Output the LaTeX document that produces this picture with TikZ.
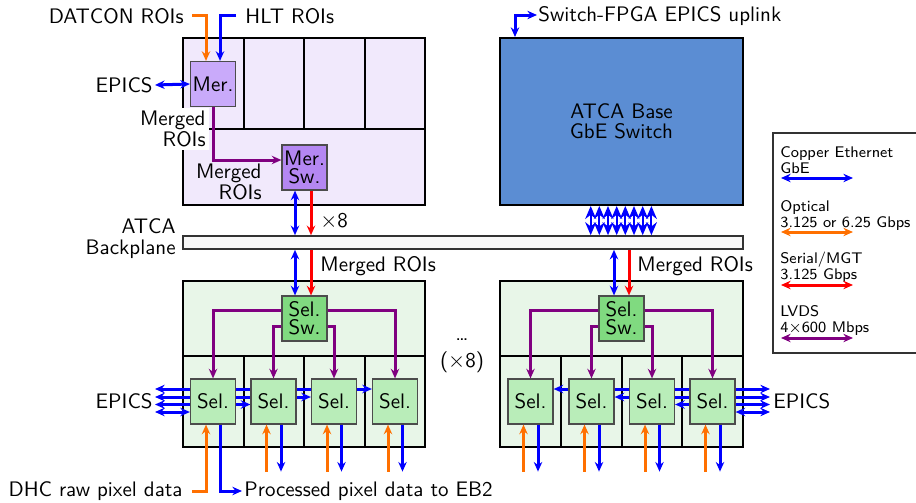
\documentclass[tikz,border=0pt]{standalone}
\usetikzlibrary{arrows.meta,calc}
\pgfdeclarelayer{bg}
\pgfdeclarelayer{mid}
\pgfsetlayers{bg,mid,main}
\definecolor{lavcrate}{HTML}{F1E9FC}
\definecolor{merfill}{HTML}{C9AAFA}
\definecolor{merswfill}{HTML}{B487F2}
\definecolor{grncrate}{HTML}{E8F6E8}
\definecolor{selswfill}{HTML}{80DA80}
\definecolor{selfill}{HTML}{B9EDB9}
\definecolor{swfill}{HTML}{5B8DD3}
\definecolor{cblue}{HTML}{0000FF}
\definecolor{corange}{HTML}{FF7000}
\definecolor{cred}{HTML}{FF0000}
\definecolor{cpurple}{HTML}{800080}
\definecolor{bpfill}{HTML}{F8F8F8}
\begin{document}
\begin{tikzpicture}[x=0.5pt,y=-0.5pt,
  >={Stealth[length=4.8pt,width=4.2pt]},
  every node/.style={font=\sffamily\fontsize{10.5}{10.5}\selectfont, inner sep=0pt},
  crateL/.style={draw=black, line width=1pt, fill=lavcrate},
  crateG/.style={draw=black, line width=1pt, fill=grncrate},
  divline/.style={draw=black, line width=1pt},
  smallbox/.style={draw=black!70, line width=0.6pt, minimum width=22.5pt, minimum height=22.5pt, align=center, font=\sffamily\fontsize{10.5}{9}\selectfont},
  merbox/.style={smallbox, fill=merfill},
  merswbox/.style={smallbox, fill=merswfill},
  selbox/.style={smallbox, fill=selfill},
  selswbox/.style={smallbox, fill=selswfill},
  ar/.style={->, line width=1.5pt},
  bi/.style={<->, line width=1.5pt},
  thinbi/.style={{Stealth[length=6.5pt,width=5.5pt]}-{Stealth[length=6.5pt,width=5.5pt]}, line width=1pt},
  lbl/.style={align=right},
  leg/.style={align=left, anchor=north west, font=\sffamily\fontsize{7.7}{8}\selectfont},
]
\useasboundingbox (0,0) rectangle (916,503);

% ---------- crates (background) ----------
\begin{pgfonlayer}{bg}
  \draw[crateL] (183,38) rectangle (425,205);
  \draw[divline] (183,129) -- (425,129);
  \foreach \x in {244,304,365} \draw[divline] (\x,38) -- (\x,129);
  \draw[crateG] (183,281) rectangle (425,447);
  \draw[divline] (183,356) -- (425,356);
  \foreach \x in {244,304,365} \draw[divline] (\x,356) -- (\x,447);
  \draw[crateG] (500,281) rectangle (743,447);
  \draw[divline] (500,356) -- (743,356);
  \foreach \x in {561,622,682} \draw[divline] (\x,356) -- (\x,447);
  \draw[draw=black!80, line width=0.8pt] (773,133) rectangle (930,353);
\end{pgfonlayer}

% ---------- main nodes ----------
\node[merbox] (mer) at (213,84) {Mer.};
\node[merswbox] (mersw) at (304.5,167.5) {Mer.\\Sw.};
\node[draw=black, line width=1pt, fill=swfill, minimum width=121.5pt, minimum height=83.5pt, align=center, font=\sffamily\fontsize{10.5}{10}\selectfont] (sw) at (621.5,121.5) {ATCA Base\\GbE Switch};
\node[draw=black!80, line width=0.8pt, fill=bpfill, minimum width=280pt, minimum height=6.5pt] (bp) at (463,242.5) {};

\node[selswbox] (LS) at (304.5,318.5) {Sel.\\Sw.};
\node[selswbox] (RS) at (621.5,318.5) {Sel.\\Sw.};
\node[selbox] (L1) at (213,401.5) {Sel.};
\node[selbox] (L2) at (273.5,401.5) {Sel.};
\node[selbox] (L3) at (334,401.5) {Sel.};
\node[selbox] (L4) at (395,401.5) {Sel.};
\node[selbox] (R1) at (530.5,401.5) {Sel.};
\node[selbox] (R2) at (591.5,401.5) {Sel.};
\node[selbox] (R3) at (652,401.5) {Sel.};
\node[selbox] (R4) at (712.5,401.5) {Sel.};

% ---------- labels ----------
\node[anchor=east] (datcon) at (184,16.5) {DATCON ROIs};
\node[anchor=west] (hlt) at (245,16.5) {HLT ROIs};
\node[anchor=east] (epicsT) at (153,85) {EPICS};
\node[lbl, anchor=north east, fill=white, inner sep=1.5pt] (mergedA) at (209,108) {Merged\\ROIs};
\node[lbl, anchor=north east] (mergedB) at (262,164) {Merged\\ROIs};
\node[anchor=west] (x8) at (320,221) {$\times$8};
\node[lbl, anchor=east] (atca) at (176,238.5) {ATCA\\Backplane};
\node[anchor=west] (uplink) at (538,16.5) {Switch-FPGA EPICS uplink};
\node[anchor=west] (mroiL) at (320,266) {Merged ROIs};
\node[anchor=west] (mroiR) at (637,266) {Merged ROIs};
\node[anchor=east] (epicsL) at (153,401) {EPICS};
\node[anchor=west] (epicsR) at (773,401) {EPICS};
\node[anchor=east] (dhc) at (183,491) {DHC raw pixel data};
\node[anchor=west] (proc) at (244,491) {Processed pixel data to EB2};
\node[align=center, font=\sffamily\fontsize{10.5}{13.5}\selectfont] (dots) at (462,356) {\dots\\($\times$8)};

% ---------- legend ----------
\node[leg] (lg1) at (780,146) {Copper Ethernet\\GbE};
\node[leg] (lg2) at (780,200) {Optical\\3.125 or 6.25 Gbps};
\node[leg] (lg3) at (780,252) {Serial/MGT\\3.125 Gbps};
\node[leg] (lg4) at (780,305) {LVDS\\4$\times$600 Mbps};
\coordinate (g1a) at (781,178); \coordinate (g1b) at (853,178);
\coordinate (g2a) at (781,232); \coordinate (g2b) at (853,232);
\coordinate (g3a) at (781,285); \coordinate (g3b) at (853,285);
\coordinate (g4a) at (781,338); \coordinate (g4b) at (853,338);
\draw[bi, cblue] (g1a) -- (g1b);
\draw[bi, corange] (g2a) -- (g2b);
\draw[bi, cred] (g3a) -- (g3b);
\draw[bi, cpurple] (g4a) -- (g4b);

% ---------- top crate connectors ----------
\draw[ar, corange] ([xshift=4pt]datcon.east |- 0,15) -| (mer.north -| 206,0);
\draw[ar, cblue] ([xshift=-4.5pt]hlt.west |- 0,15) -| (mer.north -| 220,0);
\draw[bi, cblue] ([xshift=1pt]epicsT.east) -- (mer.west);
\draw[ar, cpurple] (mer.south) |- (mersw.west |- 0,160);
\draw[bi, cblue] (mersw.south -| 295,0) -- (bp.north -| 295,0);
\draw[ar, cred] (mersw.south -| 311,0) -- (bp.north -| 311,0);

% ---------- switch ----------
\draw[bi, cblue] (sw.north -| 515,0) |- ([xshift=-0.5pt]uplink.west |- 0,15);
\foreach \x in {590.7,599.3,608,616.7,625.3,634,642.7,651.4}
  \draw[thinbi, cblue] (sw.south -| \x,0) -- (bp.north -| \x,0);

% ---------- backplane to selector switches ----------
\draw[bi, cblue] (bp.south -| 295,0) -- (LS.north -| 295,0);
\draw[ar, cred] (bp.south -| 311,0) -- (LS.north -| 311,0);
\draw[bi, cblue] (bp.south -| 614,0) -- (RS.north -| 614,0);
\draw[ar, cred] (bp.south -| 629,0) -- (RS.north -| 629,0);

% ---------- LVDS fan-out ----------
\draw[ar, cpurple] (LS.west |- 0,310) -| (L1.north);
\draw[ar, cpurple] (LS.west |- 0,326) -| (L2.north);
\draw[ar, cpurple] (LS.east |- 0,326) -| (L3.north);
\draw[ar, cpurple] (LS.east |- 0,310) -| (L4.north);
\draw[ar, cpurple] (RS.west |- 0,310) -| (R1.north);
\draw[ar, cpurple] (RS.west |- 0,326) -| (R2.north);
\draw[ar, cpurple] (RS.east |- 0,326) -| (R3.north);
\draw[ar, cpurple] (RS.east |- 0,310) -| (R4.north);

% ---------- EPICS links (behind boxes) ----------
\begin{pgfonlayer}{mid}
  \draw[bi, cblue] ([xshift=1pt]epicsL.east |- 0,389) -- (L4.west |- 0,389);
  \draw[bi, cblue] ([xshift=1pt]epicsL.east |- 0,397) -- (L3.west |- 0,397);
  \draw[bi, cblue] ([xshift=1pt]epicsL.east |- 0,404.5) -- (L2.west |- 0,404.5);
  \draw[bi, cblue] ([xshift=1pt]epicsL.east |- 0,412) -- (L1.west |- 0,412);
  \draw[bi, cblue] ([xshift=-1.5pt]epicsR.west |- 0,389) -- (R1.east |- 0,389);
  \draw[bi, cblue] ([xshift=-1.5pt]epicsR.west |- 0,397) -- (R2.east |- 0,397);
  \draw[bi, cblue] ([xshift=-1.5pt]epicsR.west |- 0,404.5) -- (R3.east |- 0,404.5);
  \draw[bi, cblue] ([xshift=-1.5pt]epicsR.west |- 0,412) -- (R4.east |- 0,412);
\end{pgfonlayer}

% ---------- front-end pixel data ----------
\draw[ar, corange] ([xshift=4.5pt]dhc.east) -| ($(L1.south)+(-7,0)$);
\draw[ar, cblue] ($(L1.south)+(7,0)$) |- ([xshift=-1pt]proc.west);
\foreach \n in {L2,L3,L4,R1,R2,R3,R4} {
  \draw[ar, corange] ($(\n.south)+(-7,47)$) -- ($(\n.south)+(-7,0)$);
  \draw[ar, cblue] ($(\n.south)+(7.5,0)$) -- ($(\n.south)+(7.5,47)$);
}
\end{tikzpicture}
\end{document}
